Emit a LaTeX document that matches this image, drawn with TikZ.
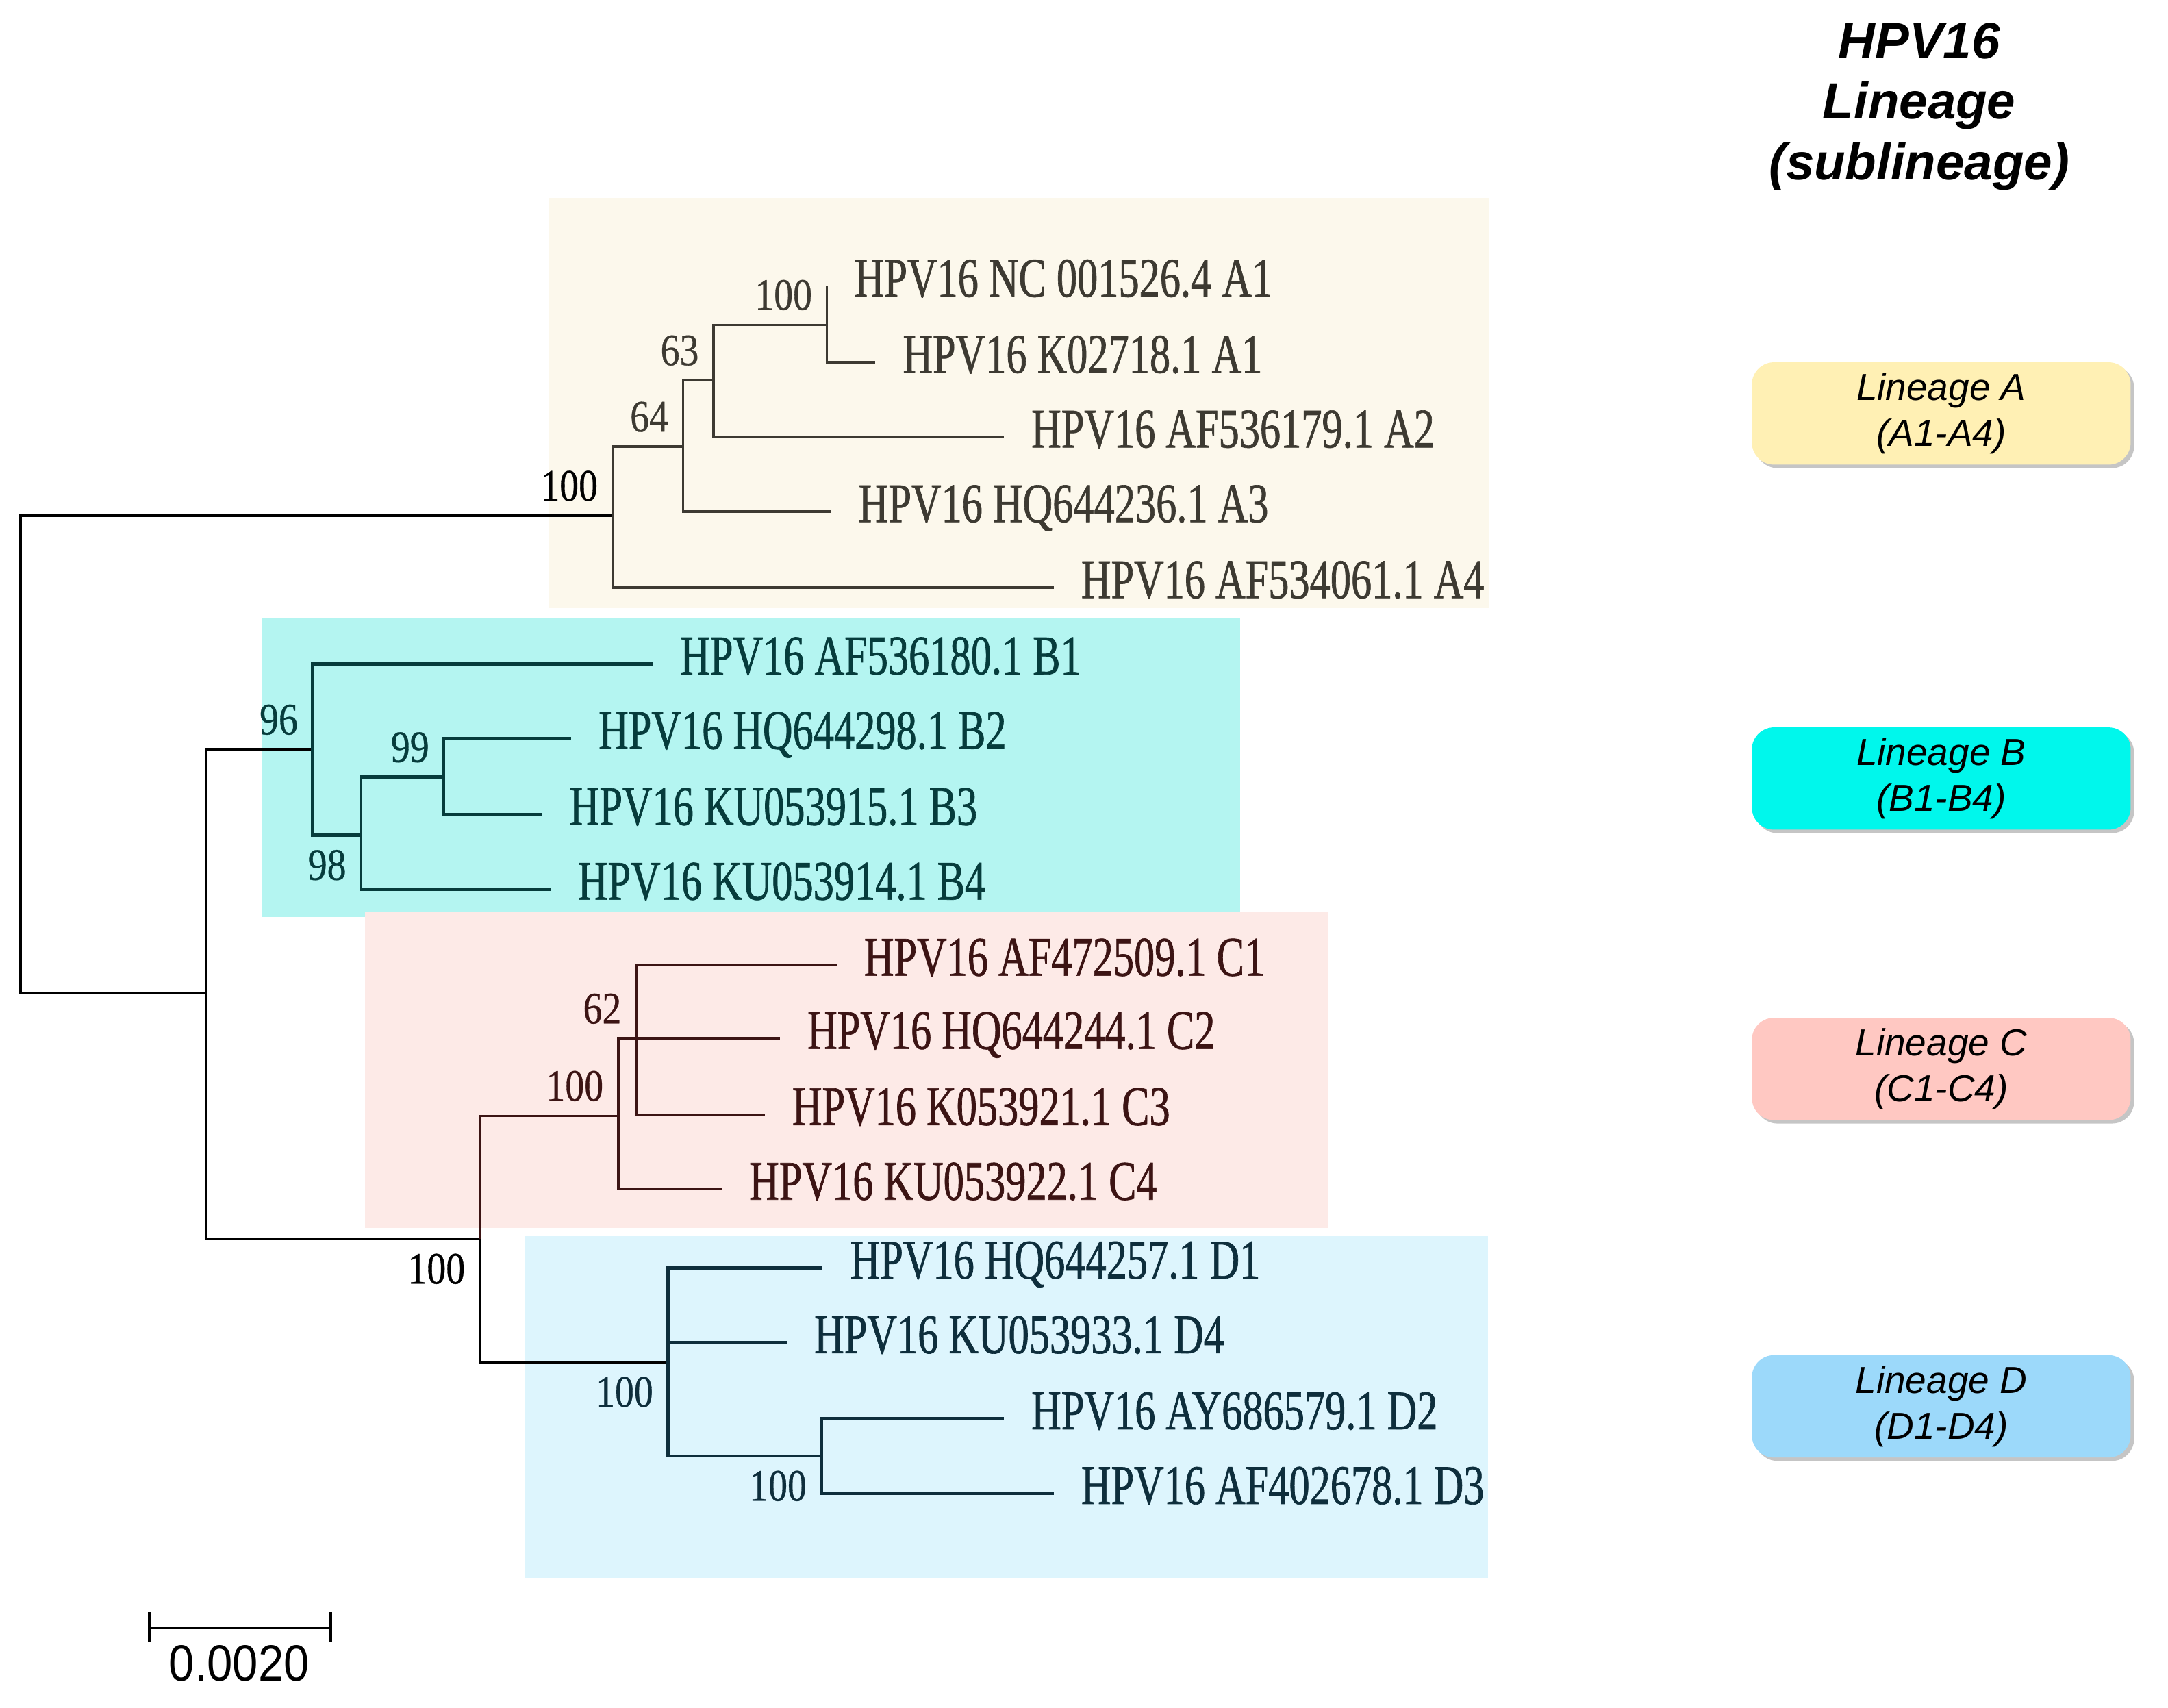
\documentclass[tikz,border=0pt]{standalone}
\usepackage{fontspec}
\setmainfont{Liberation Serif}
\newfontfamily\treefont[FakeStretch=0.74, FakeBold=0.8]{Liberation Serif}
\newfontfamily\bootfont[FakeStretch=0.85, FakeBold=0.5]{Liberation Serif}
\newfontfamily\lineagefont{Liberation Sans}
\newfontfamily\scalefont[FakeStretch=0.9]{Liberation Sans}
\usetikzlibrary{positioning,shadows}

\definecolor{bgA}{HTML}{FCF8EC}
\definecolor{bgB}{HTML}{B4F5F1}
\definecolor{bgC}{HTML}{FDEAE7}
\definecolor{bgD}{HTML}{DDF5FD}
\definecolor{boxA}{HTML}{FFF0B4}
\definecolor{boxB}{HTML}{00F7EC}
\definecolor{boxC}{HTML}{FFC8C2}
\definecolor{boxD}{HTML}{9CD9FA}
\definecolor{inkA}{HTML}{3D3A32}
\definecolor{inkB}{HTML}{063C3C}
\definecolor{inkC}{HTML}{3C1414}
\definecolor{inkD}{HTML}{0E2E3C}

\begin{document}
\begin{tikzpicture}[x=0.02cm, y=-0.02cm, line width=1.1pt,
    leaf/.style={inner sep=0pt, text height=0.86em, text depth=0pt,
      font=\treefont\fontsize{23}{23}\selectfont},
    boot/.style={inner sep=5.5pt, font=\bootfont\fontsize{18.5}{18.5}\selectfont},
    lineage/.style={rounded corners=0.32cm, minimum width=5.48cm, minimum height=1.48cm,
      align=center, font=\lineagefont\itshape\fontsize{15.5}{19}\selectfont,
      drop shadow={shadow xshift=0.05cm, shadow yshift=-0.05cm, fill=black!45, opacity=0.5}}]
      \useasboundingbox (0,0) rectangle (1568,1235);

      \fill[bgA] (397,143) rectangle (1077,440);
      \fill[bgB] (189,447) rectangle (897,663);
      \fill[bgC] (264,659) rectangle (961,888);
      \fill[bgD] (380,894) rectangle (1076,1141);

      \coordinate (root) at (15,545);
      \coordinate (nA) at (443,373);
      \coordinate (n64) at (494,323);
      \coordinate (n63) at (516,275);
      \coordinate (nA1) at (598,235);
      \coordinate (nBCD) at (149,718);
      \coordinate (nB) at (226,542);
      \coordinate (n98) at (261,604);
      \coordinate (n99) at (321,562);
      \coordinate (nCD) at (347,896);
      \coordinate (nC) at (447,807);
      \coordinate (n62) at (460,751);
      \coordinate (nD) at (483,985);
      \coordinate (nD23) at (594,1053);

      \coordinate (tA1a) at (598,207);
      \coordinate (tA1b) at (633,262);
      \coordinate (tA2) at (726,316);
      \coordinate (tA3) at (601,370);
      \coordinate (tA4) at (762,425);
      \coordinate (tB1) at (472,480);
      \coordinate (tB2) at (413,534);
      \coordinate (tB3) at (392,589);
      \coordinate (tB4) at (398,643);
      \coordinate (tC1) at (605,698);
      \coordinate (tC2) at (564,751);
      \coordinate (tC3) at (553,806);
      \coordinate (tC4) at (522,860);
      \coordinate (tD1) at (595,917);
      \coordinate (tD4) at (569,971);
      \coordinate (tD2) at (726,1026);
      \coordinate (tD3) at (762,1080);

      \foreach \a/\b in {root/nA, root/nBCD, nBCD/nB, nBCD/nCD, nCD/nD}
        \draw (\a) |- (\b);
      \foreach \a/\b in {nA/n64, nA/tA4, n64/n63, n64/tA3, n63/nA1, n63/tA2, nA1/tA1a, nA1/tA1b}
        \draw[inkA] (\a) |- (\b);
      \foreach \a/\b in {nB/tB1, nB/n98, n98/n99, n98/tB4, n99/tB2, n99/tB3}
        \draw[inkB, line width=1.3pt] (\a) |- (\b);
      \foreach \a/\b in {nCD/nC, nC/tC2, nC/tC4, n62/tC1, n62/tC3}
        \draw[inkC] (\a) |- (\b);
      \foreach \a/\b in {nD/tD1, nD/tD4, nD/nD23, nD23/tD2, nD23/tD3}
        \draw[inkD, line width=1.3pt] (\a) |- (\b);

      \node[leaf, text=inkA, right=0.38cm of tA1a] (lA1a) {HPV16 NC 001526.4 A1};
      \node[leaf, text=inkA, right=0.38cm of tA1b] (lA1b) {HPV16 K02718.1 A1};
      \node[leaf, text=inkA, right=0.38cm of tA2] (lA2) {HPV16 AF536179.1 A2};
      \node[leaf, text=inkA, right=0.38cm of tA3] (lA3) {HPV16 HQ644236.1 A3};
      \node[leaf, text=inkA, right=0.38cm of tA4] (lA4) {HPV16 AF534061.1 A4};
      \node[leaf, text=inkB, right=0.38cm of tB1] (lB1) {HPV16 AF536180.1 B1};
      \node[leaf, text=inkB, right=0.38cm of tB2] (lB2) {HPV16 HQ644298.1 B2};
      \node[leaf, text=inkB, right=0.38cm of tB3] (lB3) {HPV16 KU053915.1 B3};
      \node[leaf, text=inkB, right=0.38cm of tB4] (lB4) {HPV16 KU053914.1 B4};
      \node[leaf, text=inkC, right=0.38cm of tC1] (lC1) {HPV16 AF472509.1 C1};
      \node[leaf, text=inkC, right=0.38cm of tC2] (lC2) {HPV16 HQ644244.1 C2};
      \node[leaf, text=inkC, right=0.38cm of tC3] (lC3) {HPV16 K053921.1 C3};
      \node[leaf, text=inkC, right=0.38cm of tC4] (lC4) {HPV16 KU053922.1 C4};
      \node[leaf, text=inkD, right=0.38cm of tD1] (lD1) {HPV16 HQ644257.1 D1};
      \node[leaf, text=inkD, right=0.38cm of tD4] (lD4) {HPV16 KU053933.1 D4};
      \node[leaf, text=inkD, right=0.38cm of tD2] (lD2) {HPV16 AY686579.1 D2};
      \node[leaf, text=inkD, right=0.38cm of tD3] (lD3) {HPV16 AF402678.1 D3};

      \node[boot, above left] (sA) at (nA) {100};
      \node[boot, above left, text=inkA] (s64) at (n64) {64};
      \node[boot, above left, text=inkA] (s63) at (n63) {63};
      \node[boot, above left, text=inkA] (sA1) at (nA1) {100};
      \node[boot, above left, text=inkB] (sB) at (nB) {96};
      \node[boot, below left, text=inkB] (s98) at (n98) {98};
      \node[boot, above left, text=inkB] (s99) at (n99) {99};
      \node[boot, below left] (sCD) at (nCD) {100};
      \node[boot, above left, text=inkC] (sC) at (nC) {100};
      \node[boot, above left, text=inkC] (s62) at (n62) {62};
      \node[boot, below left, text=inkD] (sD) at (nD) {100};
      \node[boot, below left, text=inkD] (sD23) at (nD23) {100};

      \coordinate (sb1) at (108,1177);
      \coordinate (sb2) at (239,1177);
      \draw (sb1) -- (sb2);
      \draw (sb1) ++(0,-11) -- ++(0,21);
      \draw (sb2) ++(0,-11) -- ++(0,21);
      \node[font=\scalefont\fontsize{21}{21}\selectfont] (sbl) at (173,1203) {0.0020};

      \node[align=center, font=\lineagefont\bfseries\itshape\fontsize{21}{25}\selectfont] (title) at (1388,77) {HPV16\\Lineage\\(sublineage)};
      \node[lineage, fill=boxA] (linA) at (1404,299) {Lineage A\\(A1-A4)};
      \node[lineage, fill=boxB] (linB) at (1404,563) {Lineage B\\(B1-B4)};
      \node[lineage, fill=boxC] (linC) at (1404,773) {Lineage C\\(C1-C4)};
      \node[lineage, fill=boxD] (linD) at (1404,1017) {Lineage D\\(D1-D4)};
\end{tikzpicture}
\end{document}
